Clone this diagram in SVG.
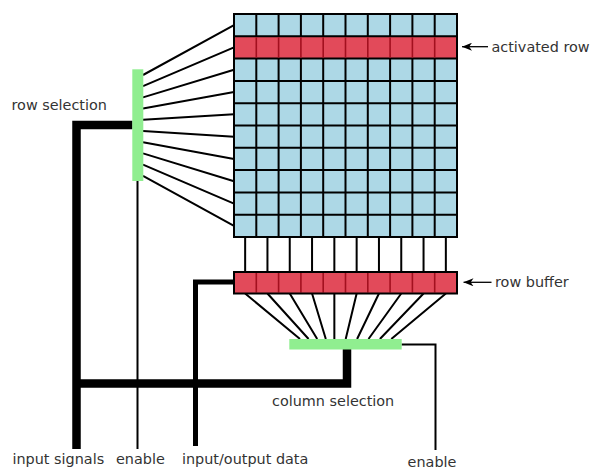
<svg xmlns="http://www.w3.org/2000/svg" width="591" height="469" viewBox="0 0 591 469">
  <style>
    .label { font-family: "DejaVu Sans", Verdana, sans-serif; font-size: 14.4px; fill: #333; }
    .wire { fill: none; stroke: #000; stroke-width: 2; }
    .thick { fill: none; stroke: #000; stroke-width: 8.5; }
    .io { fill: none; stroke: #000; stroke-width: 5; }
    .grid { fill: none; stroke: #000; stroke-width: 2; }
    .redsep { fill: none; stroke: #a3101f; stroke-width: 1.6; }
    .cells { fill: #add8e6; }
    .active { fill: #e24a5a; }
    .selector { fill: #90ee90; }
    .pointer { fill: none; stroke: #000; stroke-width: 1.3; marker-end: url(#tip); }
  </style>
  <defs>
    <marker id="tip" markerUnits="userSpaceOnUse" viewBox="0 -4 10 8" markerWidth="10" markerHeight="8" refX="10" refY="0" orient="auto">
      <path d="M10,0 L0,-4 L2.8,0 L0,4 Z" fill="#000"/>
    </marker>
  </defs>
  <rect width="591" height="469" fill="#fff"/>

  <!-- connectors -->
  <g id="connectors">
    <!-- row selection fan-out to each row of the array -->
    <path class="wire" d="M143,75 L234,25.15 M143,86.2 L234,47.45 M143,97.4 L234,69.75 M143,108.6 L234,92.05 M143,119.8 L234,114.35 M143,131 L234,136.65 M143,142.2 L234,158.95 M143,153.4 L234,181.25 M143,164.6 L234,203.55 M143,175.8 L234,225.85"/>
    <!-- bit lines from array to row buffer -->
    <path class="wire" d="M245.15,237 V272 M267.45,237 V272 M289.75,237 V272 M312.05,237 V272 M334.35,237 V272 M356.65,237 V272 M378.95,237 V272 M401.25,237 V272 M423.55,237 V272 M445.85,237 V272"/>
    <!-- row buffer fan-in to column selection -->
    <path class="wire" d="M245.15,293.5 L300,339 M267.45,293.5 L308.6,339 M289.75,293.5 L317.2,339 M312.05,293.5 L325.8,339 M334.35,293.5 L334.35,339 M356.65,293.5 L345.7,339 M378.95,293.5 L357.1,339 M401.25,293.5 L368.5,339 M423.55,293.5 L379.9,339 M445.85,293.5 L391.3,339"/>
    <!-- input signal bus -->
    <path class="thick" d="M132.5,125 H76.5 V449"/>
    <path class="thick" d="M76.5,383.5 H347 V349"/>
    <!-- enable lines -->
    <path class="wire" d="M137.5,181 V449"/>
    <path class="wire" d="M401.5,344.5 H435.5 V450"/>
    <!-- data line -->
    <path class="io" d="M234,282 H195.5 V446"/>
    <!-- pointers -->
    <path class="pointer" d="M488,46.7 H462"/>
    <path class="pointer" d="M491.5,282.3 H463.5"/>
  </g>

  <!-- memory cell array -->
  <g id="cell-array">
    <rect class="cells" x="234" y="14" width="223" height="223"/>
    <rect class="active" x="234" y="36.3" width="223" height="22.3"/>
    <path class="grid" d="M256.3,14 V36.3 M278.6,14 V36.3 M300.9,14 V36.3 M323.2,14 V36.3 M345.5,14 V36.3 M367.8,14 V36.3 M390.1,14 V36.3 M412.4,14 V36.3 M434.7,14 V36.3
      M256.3,58.6 V237 M278.6,58.6 V237 M300.9,58.6 V237 M323.2,58.6 V237 M345.5,58.6 V237 M367.8,58.6 V237 M390.1,58.6 V237 M412.4,58.6 V237 M434.7,58.6 V237
      M234,36.3 H457 M234,58.6 H457 M234,80.9 H457 M234,103.2 H457 M234,125.5 H457 M234,147.8 H457 M234,170.1 H457 M234,192.4 H457 M234,214.7 H457"/>
    <path class="redsep" d="M256.3,37.3 V57.6 M278.6,37.3 V57.6 M300.9,37.3 V57.6 M323.2,37.3 V57.6 M345.5,37.3 V57.6 M367.8,37.3 V57.6 M390.1,37.3 V57.6 M412.4,37.3 V57.6 M434.7,37.3 V57.6"/>
    <rect class="grid" x="234" y="14" width="223" height="223"/>
  </g>

  <!-- row buffer -->
  <g id="row-buffer">
    <rect class="active" x="234" y="272" width="223" height="21.5"/>
    <path class="redsep" d="M256.3,273 V292.5 M278.6,273 V292.5 M300.9,273 V292.5 M323.2,273 V292.5 M345.5,273 V292.5 M367.8,273 V292.5 M390.1,273 V292.5 M412.4,273 V292.5 M434.7,273 V292.5"/>
    <rect class="grid" x="234" y="272" width="223" height="21.5"/>
  </g>

  <!-- row selection decoder -->
  <g id="row-selection">
    <rect class="selector" x="132.3" y="69.3" width="11" height="111.7"/>
  </g>

  <!-- column selection decoder -->
  <g id="column-selection">
    <rect class="selector" x="289.3" y="339" width="112.4" height="10.5"/>
  </g>

  <!-- labels -->
  <g id="labels">
    <text class="label" x="11.5" y="110">row selection</text>
    <text class="label" x="491.5" y="51.5">activated row</text>
    <text class="label" x="495" y="287">row buffer</text>
    <text class="label" x="272" y="405.5">column selection</text>
    <text class="label" x="12.5" y="463.5">input signals</text>
    <text class="label" x="116" y="463.5">enable</text>
    <text class="label" x="182" y="463.5">input/output data</text>
    <text class="label" x="432" y="466.5" text-anchor="middle">enable</text>
  </g>
</svg>
